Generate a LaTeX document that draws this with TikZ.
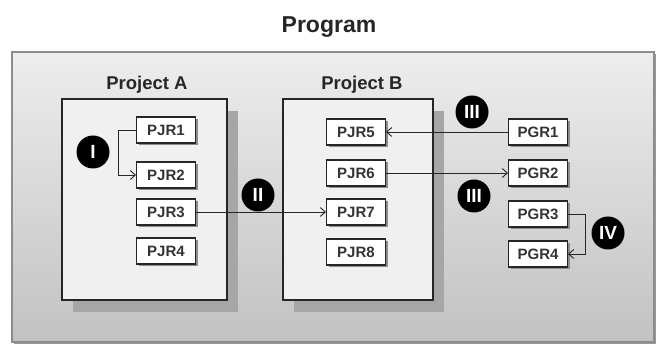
\documentclass[tikz,border=0pt]{standalone}
\usepackage{fontspec}
\setmainfont{Liberation Sans}
\usetikzlibrary{arrows.meta,shadows}
\tikzset{
  outerbox/.style={draw=black!45, line width=1.5pt, top color=black!7, bottom color=black!24, inner sep=0pt,
    drop shadow={shadow xshift=2pt, shadow yshift=-2pt, fill=black!40, opacity=1}},
  projbox/.style={draw=black!85, line width=1.3pt, fill=black!6, inner sep=0pt,
    drop shadow={shadow xshift=11pt, shadow yshift=-12pt, fill=black!35, opacity=1}},
  rbox/.style={draw=black!85, line width=1.1pt, fill=white, minimum width=59pt, minimum height=26pt,
    inner sep=0pt, font=\fontsize{15}{15}\selectfont\bfseries, text=black!80,
    drop shadow={shadow xshift=2pt, shadow yshift=-2pt, fill=black!45, opacity=1}},
  badge/.style={circle, fill=black, minimum size=33pt, inner sep=0pt, text=white,
    font=\fontsize{19}{19}\selectfont\bfseries},
  conn/.style={line width=0.9pt, draw=black!85},
  arr/.style={conn, -{Straight Barb[length=5pt,width=9pt]}},
  ttl/.style={font=\fontsize{23}{23}\selectfont\bfseries, text=black!85, inner sep=0pt},
  subttl/.style={font=\fontsize{18.5}{18.5}\selectfont\bfseries, text=black!85, inner sep=0pt}
}
\begin{document}
\begin{tikzpicture}[x=1pt,y=-1pt]
\useasboundingbox[fill=white] (0,0) rectangle (657,347);
\node[outerbox, minimum width=642pt, minimum height=290pt] (prog) at (333,197) {};
\node[ttl, anchor=base] (title) at (329,33) {Program};

\node[projbox, minimum width=165pt, minimum height=201pt] (projA) at (144.5,199.5) {};
\node[projbox, minimum width=150pt, minimum height=201pt] (projB) at (358,199.5) {};
\node[subttl, anchor=base] (labA) at (147,90) {Project A};
\node[subttl, anchor=base] (labB) at (362,90) {Project B};

\node[rbox] (pjr1) at (166,130) {PJR1};
\node[rbox] (pjr2) at (166,175) {PJR2};
\node[rbox] (pjr3) at (166,212) {PJR3};
\node[rbox] (pjr4) at (166,251) {PJR4};

\node[rbox] (pjr5) at (356,132) {PJR5};
\node[rbox] (pjr6) at (356,173) {PJR6};
\node[rbox] (pjr7) at (356,212) {PJR7};
\node[rbox] (pjr8) at (356,252) {PJR8};

\node[rbox] (pgr1) at (538,132) {PGR1};
\node[rbox] (pgr2) at (538,173) {PGR2};
\node[rbox] (pgr3) at (538,214) {PGR3};
\node[rbox] (pgr4) at (538,254) {PGR4};

\draw[arr] (pjr1.west) -- ++(-18,0) |- (pjr2.west);
\draw[arr] (pjr3.east) -- (pjr7.west);
\draw[arr] (pgr1.west) -- (pjr5.east);
\draw[arr] (pjr6.east) -- (pgr2.west);
\draw[arr] (pgr3.east) -- ++(17,0) |- (pgr4.east);

\node[badge] (b1) at (93,152) {I};
\node[badge] (b2) at (258,195) {II};
\node[badge] (b3) at (472,112) {III};
\node[badge] (b4) at (474,196) {III};
\node[badge] (b5) at (608,233) {IV};
\end{tikzpicture}
\end{document}
